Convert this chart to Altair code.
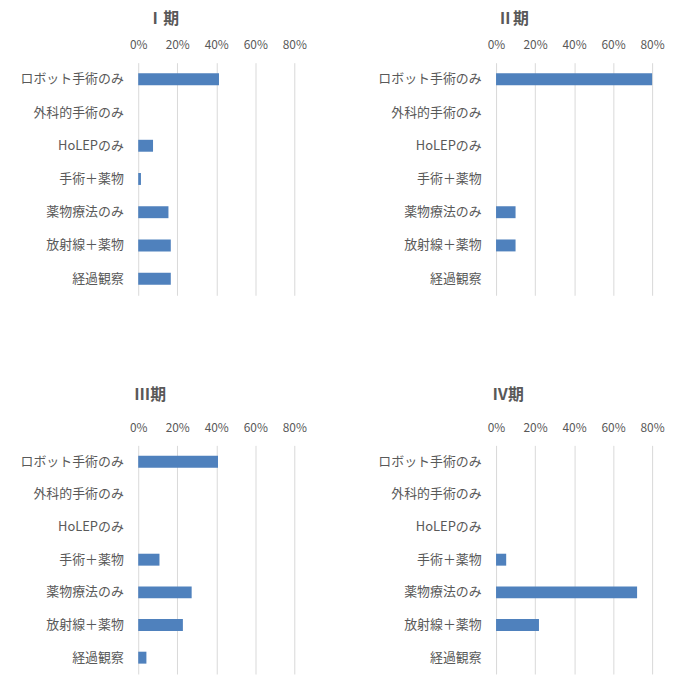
import altair as alt
import pandas as pd

categories = ["ロボット手術のみ", "外科的手術のみ", "HoLEPのみ", "手術＋薬物",
              "薬物療法のみ", "放射線＋薬物", "経過観察"]
stage_titles = ["Ⅰ期", "Ⅱ期", "Ⅲ期", "Ⅳ期"]
stage_I = [41.4, 0, 7.6, 1.4, 15.5, 16.7, 16.7]
stage_II = [80.0, 0, 0, 0, 10.0, 10.0, 0]
stage_III = [40.9, 0, 0, 10.9, 27.4, 22.9, 4.2]
stage_IV = [0, 0, 0, 5.2, 72.3, 22.0, 0]
tick_values = [0, 20, 40, 60, 80]

FONT = "Noto Sans CJK JP"
GREY = "#595959"
BLUE = "#4F81BD"


def panel(title, values, height, title_offset, title_dx):
    df = pd.DataFrame({"category": categories, "value": values})
    return alt.Chart(df).mark_bar(color=BLUE, size=12).encode(
        x=alt.X("value:Q",
                scale=alt.Scale(domain=[0, 80], nice=False),
                axis=alt.Axis(orient="top", values=tick_values, title=None,
                              labelExpr="datum.value + '%'",
                              domain=False, ticks=False, grid=True,
                              gridColor="#D9D9D9", gridWidth=1,
                              labelFlush=False, labelPadding=11,
                              labelFontSize=12, labelColor=GREY, labelFont=FONT)),
        y=alt.Y("category:N", sort=categories,
                scale=alt.Scale(paddingInner=0, paddingOuter=0),
                axis=alt.Axis(title=None, domain=False, ticks=False, grid=False,
                              labelPadding=15, labelFontSize=13, labelColor=GREY,
                              labelFont=FONT, labelLimit=200)),
    ).properties(
        width=157, height=height,
        title=alt.TitleParams(title, font=FONT, fontSize=16, fontWeight="bold",
                              color=GREY, anchor="middle", frame="bounds",
                              offset=title_offset, dx=title_dx),
    )


top = alt.hconcat(panel(stage_titles[0], stage_I, 234, 12, 0),
                  panel(stage_titles[1], stage_II, 234, 12, -8),
                  spacing=70)
bottom = alt.hconcat(panel(stage_titles[2], stage_III, 230, 19, -13),
                     panel(stage_titles[3], stage_IV, 230, 19, -13),
                     spacing=70)
chart = alt.vconcat(top, bottom, spacing=92).properties(
    padding={"left": 11, "top": 1, "right": 5, "bottom": 0}
).configure_view(stroke=None)

chart.save("out.html", embed_options={"renderer": "svg", "actions": False})
